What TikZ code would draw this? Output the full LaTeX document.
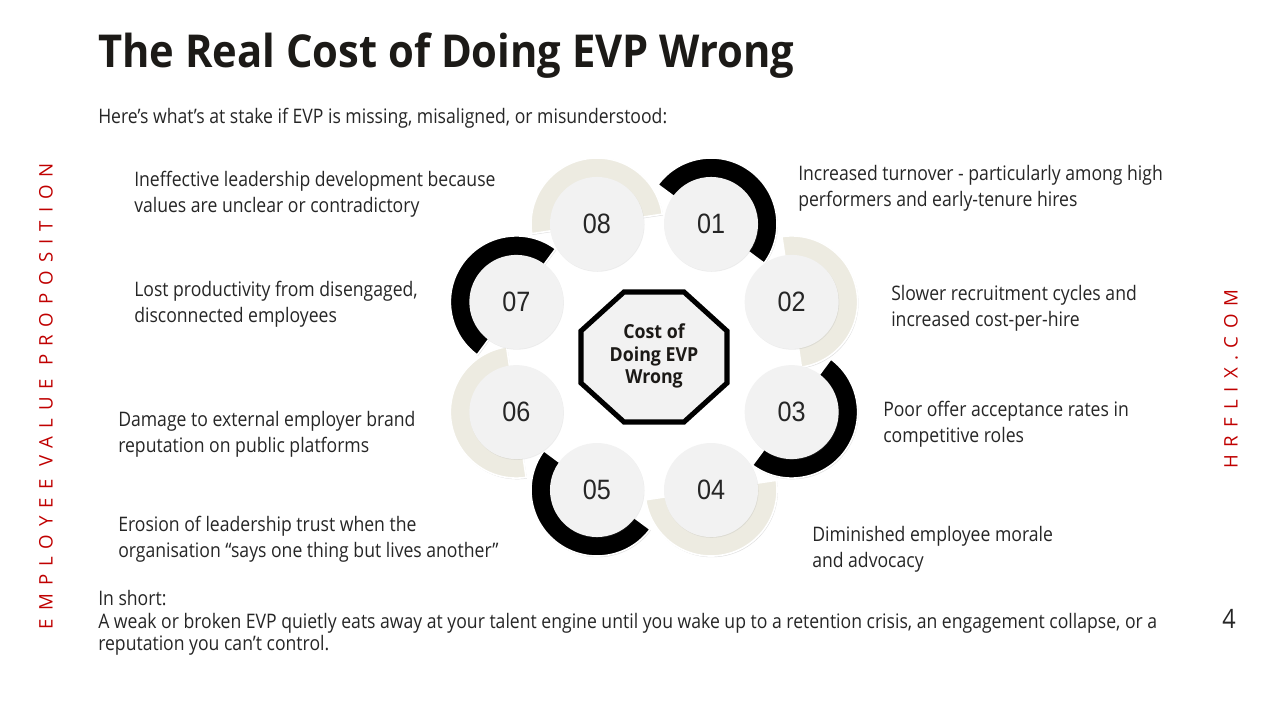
\documentclass[tikz,border=0pt]{standalone}
\usepackage{fontspec}
\setmainfont[FakeStretch=0.88]{Open Sans}
\newfontfamily\headfont[FakeStretch=0.92]{Open Sans}
\newfontfamily\digitfont[FakeStretch=0.9]{Liberation Sans}
\newfontfamily\spacedfont[LetterSpace=43]{Open Sans}
\usetikzlibrary{shadows}
\definecolor{tanring}{HTML}{EDEBE1}
\definecolor{discgray}{HTML}{F2F2F2}
\definecolor{bodytext}{HTML}{262626}
\definecolor{headtext}{HTML}{1C1A17}
\definecolor{sidered}{HTML}{C00000}

\begin{document}
\begin{tikzpicture}[x=0.75pt,y=0.75pt,
  ringshadow/.style={drop shadow={shadow xshift=0.6pt,shadow yshift=-0.9pt,opacity=0.25}},
  darkring/.style={fill=black,draw=white,line width=1.2pt,ringshadow},
  lightring/.style={fill=tanring,draw=white,line width=1.2pt,ringshadow},
  disc/.style={circle,fill=discgray,minimum size=70.5pt,inner sep=0pt,
    drop shadow={shadow xshift=0.4pt,shadow yshift=-0.6pt,opacity=0.15},
    text=bodytext,font=\digitfont\fontsize{21}{21}\selectfont},
  item/.style={anchor=west,align=left,inner sep=0pt,text=bodytext,
    font=\fontsize{15}{19.5}\selectfont}]
\useasboundingbox[fill=white] (-654,357) rectangle (626,-363);

% rings, one half each
\fill[darkring] (67.5:149 and 144) ++(143.5:66) arc[start angle=143.5,end angle=-36.5,radius=66] -- ++(-36.5:-22) arc[start angle=-36.5,end angle=143.5,radius=44] -- cycle;
\fill[lightring] (22.5:149 and 144) ++(98.5:66) arc[start angle=98.5,end angle=-81.5,radius=66] -- ++(-81.5:-22) arc[start angle=-81.5,end angle=98.5,radius=44] -- cycle;
\fill[darkring] (-22.5:149 and 144) ++(53.5:66) arc[start angle=53.5,end angle=-126.5,radius=66] -- ++(-126.5:-22) arc[start angle=-126.5,end angle=53.5,radius=44] -- cycle;
\fill[lightring] (-67.5:149 and 144) ++(8.5:66) arc[start angle=8.5,end angle=-171.5,radius=66] -- ++(-171.5:-22) arc[start angle=-171.5,end angle=8.5,radius=44] -- cycle;
\fill[darkring] (-112.5:149 and 144) ++(-36.5:66) arc[start angle=-36.5,end angle=-216.5,radius=66] -- ++(-216.5:-22) arc[start angle=-216.5,end angle=-36.5,radius=44] -- cycle;
\fill[lightring] (-157.5:149 and 144) ++(-81.5:66) arc[start angle=-81.5,end angle=-261.5,radius=66] -- ++(-261.5:-22) arc[start angle=-261.5,end angle=-81.5,radius=44] -- cycle;
\fill[darkring] (157.5:149 and 144) ++(233.5:66) arc[start angle=233.5,end angle=53.5,radius=66] -- ++(53.5:-22) arc[start angle=53.5,end angle=233.5,radius=44] -- cycle;
\fill[lightring] (112.5:149 and 144) ++(188.5:66) arc[start angle=188.5,end angle=8.5,radius=66] -- ++(8.5:-22) arc[start angle=8.5,end angle=188.5,radius=44] -- cycle;

\node[disc] (n01) at (67.5:149 and 144) {01};
\node[disc] (n02) at (22.5:149 and 144) {02};
\node[disc] (n03) at (-22.5:149 and 144) {03};
\node[disc] (n04) at (-67.5:149 and 144) {04};
\node[disc] (n05) at (-112.5:149 and 144) {05};
\node[disc] (n06) at (-157.5:149 and 144) {06};
\node[disc] (n07) at (157.5:149 and 144) {07};
\node[disc] (n08) at (112.5:149 and 144) {08};

% centre octagon
\draw[fill=discgray,line width=3.8pt] (-30,65) -- (30,65) -- (73,26) -- (73,-26) -- (30,-65) -- (-30,-65) -- (-73,-26) -- (-73,26) -- cycle;
\node[align=center,text=headtext,font=\headfont\bfseries\fontsize{14.5}{17}\selectfont] (hub) at (0,1) {Cost of\\Doing EVP\\Wrong};

\node[anchor=base west,inner sep=0pt,text=headtext,font=\headfont\bfseries\fontsize{34}{40}\selectfont] (title) at (-556,289) {The Real Cost of Doing EVP Wrong};
\node[item] (intro) at (-556,239) {Here’s what’s at stake if EVP is missing, misaligned, or misunderstood:};

\node[item] (t01) at (144,169) {Increased turnover - particularly among high\\performers and early-tenure hires};
\node[item] (t02) at (237,49) {Slower recruitment cycles and\\increased cost-per-hire};
\node[item] (t03) at (229,-67) {Poor offer acceptance rates in\\competitive roles};
\node[item] (t04) at (158,-192) {Diminished employee morale\\and advocacy};
\node[item] (t05) at (-536,-182) {Erosion of leadership trust when the\\organisation “says one thing but lives another”};
\node[item] (t06) at (-536,-77) {Damage to external employer brand\\reputation on public platforms};
\node[item] (t07) at (-520,53) {Lost productivity from disengaged,\\disconnected employees};
\node[item] (t08) at (-520,163) {Ineffective leadership development because\\values are unclear or contradictory};

\node[item,font=\fontsize{15}{17}\selectfont] (summary) at (-556,-266) {In short:\\A weak or broken EVP quietly eats away at your talent engine until you wake up to a retention crisis, an engagement collapse, or a\\reputation you can’t control.};
\node[text=bodytext,font=\fontsize{20}{20}\selectfont] (page) at (575,-262) {4};

\node[rotate=90,text=sidered,font=\spacedfont\fontsize{14}{14}\selectfont] (brand) at (-608,-39) {EMPLOYEE VALUE PROPOSITION};
\node[rotate=90,text=sidered,font=\spacedfont\fontsize{14}{14}\selectfont] (site) at (577,-22) {HRFLIX.COM};
\end{tikzpicture}
\end{document}
